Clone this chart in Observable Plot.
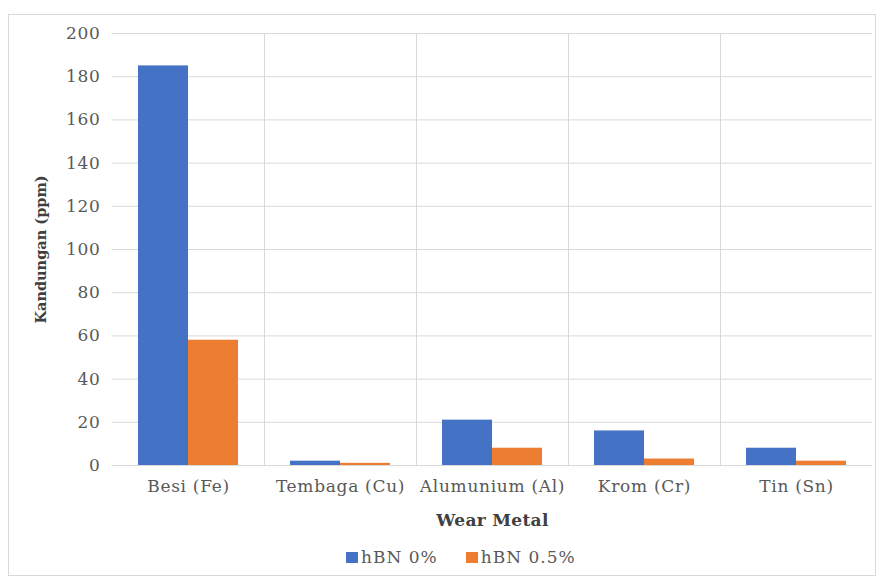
<!DOCTYPE html>
<html>
<head>
<meta charset="utf-8">
<script src="https://cdn.jsdelivr.net/npm/d3@7"></script>
<script src="https://cdn.jsdelivr.net/npm/@observablehq/plot@0.6"></script>
<style>
  html, body { margin: 0; padding: 0; background: #fff; }
  #page { position: relative; width: 880px; height: 580px; overflow: hidden; }
  #border { position: absolute; left: 8px; top: 14px; width: 868px; height: 562px; border: 1px solid #d9d9d9; box-sizing: border-box; }
  #chart { position: absolute; left: 0; top: 0; }
  #chart text { font-family: "DejaVu Serif", serif; font-size: 17px; letter-spacing: 0.7px; }
  #chart g[aria-label="fx-axis label"] text { font-weight: bold; fill: #404040; letter-spacing: 0.3px; }
  #chart g[aria-label="y-axis label"] text { font-weight: bold; fill: #404040; font-size: 14.5px; letter-spacing: 0; }
  #legend { position: absolute; left: 346px; top: 547px; display: flex; align-items: center;
            font-family: "DejaVu Serif", serif; font-size: 17px; color: #595959; letter-spacing: 1px; }
  #legend .item { display: flex; align-items: center; margin-right: 28px; }
  #legend .sw { width: 12px; height: 11px; margin-right: 3px; }
</style>
</head>
<body>
<div id="page">
  <div id="border"></div>
  <div id="chart"></div>
  <div id="legend"></div>
</div>
<script>
// Wear metal content in used oil, with and without hBN additive
const categories = ["Besi (Fe)", "Tembaga (Cu)", "Alumunium (Al)", "Krom (Cr)", "Tin (Sn)"];
const series = ["hBN 0%", "hBN 0.5%"];
const hbn0 = [185, 2, 21, 16, 8];
const hbn05 = [58, 1, 8, 3, 2];
const yTicks = [0, 20, 40, 60, 80, 100, 120, 140, 160, 180, 200];
const colors = ["#4472C4", "#ED7D31"];
const gridColor = "#d9d9d9";
const serifFont = "'DejaVu Serif', serif";

const rows = categories.flatMap((metal, i) => [
  {metal, series: series[0], value: hbn0[i]},
  {metal, series: series[1], value: hbn05[i]}
]);

const plot = Plot.plot({
  width: 880,
  height: 540,
  marginLeft: 112,
  marginRight: 8,
  marginTop: 33,
  marginBottom: 75,
  style: {fontFamily: serifFont, fontSize: "17px", color: "#595959", background: "transparent"},
  fx: {domain: categories, padding: 0},
  x: {domain: series, paddingInner: 0, paddingOuter: 0.5, axis: null},
  y: {domain: [0, 200]},
  color: {domain: series, range: colors},
  marks: [
    Plot.gridY(yTicks, {stroke: gridColor, strokeOpacity: 1, strokeWidth: 1}),
    // separators between metal groups, on the left edge of every group but the first
    Plot.ruleX(categories.slice(1), {
      fx: d => d, x: null, y1: 0, y2: 200, stroke: gridColor, strokeWidth: 1,
      render(index, scales, values, dimensions, context, next) {
        const g = next(index, scales, values, dimensions, context);
        d3.select(g).selectAll("line")
          .attr("x1", dimensions.marginLeft)
          .attr("x2", dimensions.marginLeft);
        return g;
      }
    }),
    Plot.barY(rows, {fx: "metal", x: "series", y: "value", fill: "series"}),
    Plot.axisY(yTicks, {fontFamily: serifFont, fontSize: 17, tickSize: 0, tickPadding: 12, label: "Kandungan (ppm)", labelAnchor: "center", labelArrow: "none", labelOffset: 77}),
    Plot.axisFx({fontFamily: serifFont, fontSize: 17, anchor: "bottom", tickSize: 0, tickPadding: 14, label: "Wear Metal", labelAnchor: "center", labelArrow: "none", labelOffset: 60})
  ]
});
document.getElementById("chart").append(plot);

// legend
const legend = d3.select("#legend");
series.forEach((s, i) => {
  const item = legend.append("div").attr("class", "item");
  item.append("div").attr("class", "sw").style("background", colors[i]);
  item.append("span").text(s);
});
</script>
</body>
</html>
